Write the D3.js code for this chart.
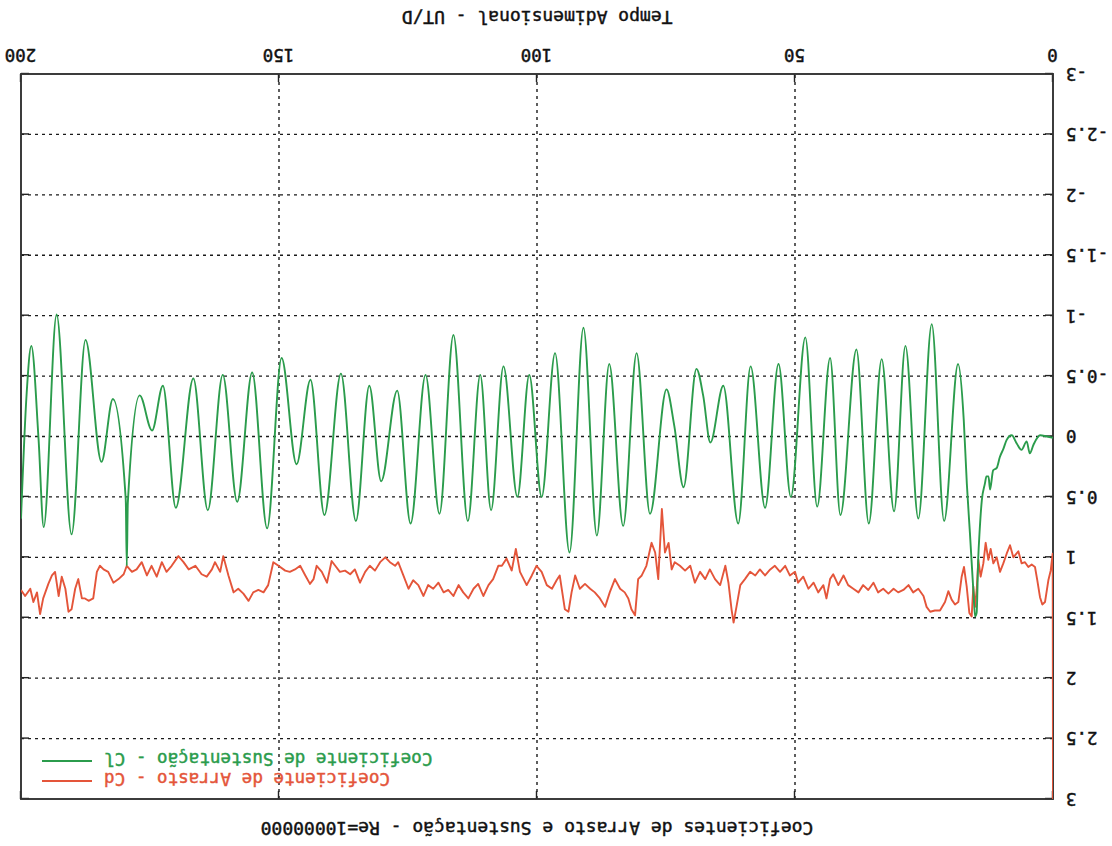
<!DOCTYPE html>
<html>
<head>
<meta charset="utf-8">
<script src="https://cdn.jsdelivr.net/npm/d3@7"></script>
<style>
  html, body { margin: 0; padding: 0; background: #fff; }
  svg { display: block; }
  text { font-family: "DejaVu Sans Mono", "Liberation Mono", monospace; fill: #111; }
</style>
</head>
<body>
<svg id="chart" width="1112" height="846"></svg>
<script>
// ---- data (time in UT/D, coefficient values) ----
const title = "Coeficientes de Arrasto e Sustentação - Re=10000000";
const xTitle = "Tempo Adimensional - UT/D";
const xTicks = [0, 50, 100, 150, 200];
const yTicks = [-3, -2.5, -2, -1.5, -1, -0.5, 0, 0.5, 1, 1.5, 2, 2.5, 3];
const legendLabels = ["Coeficiente de Arrasto - Cd", "Coeficiente de Sustentação - Cl"];

// Drag coefficient Cd
const cdSeries = [
  [0,3],[0.06,0.97],[0.45,1.11],[0.9,1.19],[1.55,1.37],[2.07,1.39],[2.52,1.33],[3.04,1.19],[3.49,1.08],[4.13,1.06],
  [4.78,1.08],[5.43,1.04],[6.07,1.05],[6.72,0.95],[7.69,1.0],[8.33,0.90],[8.98,0.97],[9.63,1.05],[10.27,1.12],[10.92,1.0],
  [11.56,1.05],[12.08,0.93],[12.53,1.02],[13.05,0.88],[13.5,1.05],[14.02,1.16],[14.47,1.02],[14.79,1.27],[15.12,1.41],[15.44,1.24],
  [15.76,1.49],[16.21,1.46],[16.73,1.24],[17.25,1.08],[17.7,1.16],[18.35,1.37],[18.99,1.39],[19.64,1.35],[20.28,1.28],[20.93,1.37],
  [21.9,1.44],[22.9,1.44],[23.8,1.45],[24.5,1.41],[25.1,1.32],[26.1,1.26],[27.1,1.29],[28.0,1.23],[29.0,1.27],[30.0,1.29],
  [30.9,1.26],[31.9,1.30],[32.9,1.26],[33.9,1.29],[34.8,1.21],[35.8,1.27],[36.8,1.23],[37.7,1.29],[38.7,1.26],[39.7,1.23],
  [40.6,1.15],[41.6,1.23],[42.6,1.14],[43.2,1.18],[43.9,1.34],[44.5,1.23],[45.5,1.29],[46.4,1.21],[47.4,1.26],[48.4,1.16],
  [49.4,1.21],[50.0,1.12],[51.0,1.15],[51.9,1.07],[52.9,1.12],[53.9,1.07],[54.8,1.10],[55.8,1.15],[56.8,1.10],[57.7,1.15],
  [58.7,1.12],[59.7,1.18],[60.6,1.23],[61.3,1.40],[61.9,1.54],[62.3,1.43],[62.9,1.21],[63.5,1.07],[64.5,1.23],[65.5,1.18],
  [66.5,1.10],[67.4,1.18],[68.4,1.12],[69.4,1.21],[70.3,1.07],[71.3,1.11],[72.3,1.07],[73.3,1.04],[73.9,1.10],[74.5,0.88],
  [75.2,0.96],[75.8,0.60],[76.5,1.18],[77.1,0.96],[77.8,0.88],[78.8,1.07],[79.7,1.15],[80.4,1.18],[81.0,1.48],[81.7,1.43],
  [82.3,1.34],[83.0,1.29],[83.9,1.26],[84.9,1.18],[85.9,1.29],[86.8,1.41],[87.8,1.34],[88.8,1.29],[89.7,1.26],[90.7,1.22],
  [91.7,1.26],[92.6,1.15],[93.3,1.29],[93.9,1.45],[94.6,1.43],[95.6,1.15],[96.2,1.19],[97.1,1.26],[98.1,1.23],[99.1,1.12],
  [100.1,1.07],[101.0,1.15],[102.0,1.23],[103.3,1.12],[104.1,0.93],[104.9,1.11],[105.9,1.01],[106.8,1.07],[107.5,1.07],[108.5,1.18],
  [109.4,1.23],[110.4,1.32],[111.4,1.22],[112.3,1.26],[113.3,1.34],[114.3,1.29],[115.2,1.23],[116.2,1.32],[117.2,1.27],[118.1,1.29],
  [119.1,1.21],[120.1,1.26],[121.1,1.23],[122.0,1.32],[123.0,1.23],[124.0,1.19],[124.9,1.26],[125.9,1.15],[126.9,1.04],[127.5,1.07],
  [128.5,1.04],[129.4,1.00],[130.4,1.04],[131.4,1.11],[132.4,1.07],[133.3,1.12],[134.3,1.21],[135.3,1.10],[136.2,1.14],[137.2,1.11],
  [138.2,1.12],[139.1,1.07],[139.8,1.03],[140.7,1.21],[141.7,1.12],[142.7,1.07],[143.3,1.18],[144.0,1.22],[144.9,1.15],[145.9,1.07],
  [146.9,1.10],[147.9,1.12],[148.8,1.11],[150.1,1.07],[151.1,1.04],[152.1,1.23],[153.0,1.29],[154.0,1.27],[155.0,1.29],[155.9,1.36],
  [156.9,1.30],[157.9,1.26],[158.8,1.29],[159.8,1.15],[160.8,0.99],[161.4,1.12],[162.4,1.04],[163.0,1.10],[164.0,1.16],[165.0,1.14],
  [166.2,1.07],[167.5,1.10],[168.5,1.04],[169.5,0.99],[170.8,1.07],[171.8,1.12],[172.7,1.04],[173.7,1.16],[174.7,1.07],[175.6,1.15],
  [176.6,1.04],[177.6,1.10],[178.5,1.12],[179.5,1.07],[180.1,1.14],[181.1,1.18],[182.1,1.21],[183.1,1.12],[184.0,1.10],[184.7,1.07],
  [185.3,1.12],[186.0,1.34],[186.9,1.36],[187.6,1.34],[188.2,1.34],[188.9,1.18],[189.5,1.26],[190.2,1.43],[190.8,1.45],[191.4,1.26],
  [192.1,1.16],[192.7,1.32],[193.4,1.12],[194.0,1.15],[194.7,1.22],[195.7,1.34],[196.3,1.47],[196.9,1.29],[197.6,1.37],[198.2,1.26],
  [199.2,1.32],[200,1.27]
];

// Lift coefficient Cl
const clSeries = [
  [0,0.01],[1.2,0.0],[2.5,-0.01],[3.8,0.07],[4.5,0.14],[5.1,0.04],[6.1,0.11],[7.0,0.06],[8.0,-0.01],[9.0,0.03],
  [9.6,0.10],[10.3,0.17],[10.9,0.26],[11.6,0.28],[12.2,0.44],[12.5,0.33],[12.9,0.33],[13.2,0.39],[13.8,0.53],[14.2,0.77],
  [14.5,1.02],[14.8,1.46],[15.1,1.49],[15.4,1.30],[16.1,0.80],[16.7,0.39],[17.3,-0.14],[18.4,-0.60],[21.1,0.70],[23.5,-0.93],
  [26.1,0.68],[28.6,-0.75],[30.8,0.62],[33.2,-0.64],[35.7,0.72],[38.1,-0.72],[41.2,0.65],[43.2,-0.65],[45.7,0.58],[48.0,-0.82],
  [50.8,0.50],[53.2,-0.60],[55.8,0.59],[58.6,-0.58],[61.0,0.72],[63.9,-0.42],[66.4,0.05],[67.8,-0.34],[69.1,-0.56],[71.6,0.42],
  [73.4,-0.09],[74.9,-0.39],[78.1,0.64],[80.7,-0.69],[83.3,0.74],[86.0,-0.60],[88.4,0.82],[91.0,-0.90],[93.7,0.96],[96.5,-0.69],
  [99.1,0.50],[101.5,-0.51],[103.8,0.50],[106.5,-0.58],[108.9,0.61],[111.0,-0.51],[113.4,0.70],[116.2,-0.84],[118.9,0.64],[121.6,-0.51],
  [124.5,0.72],[127.1,-0.38],[130.2,0.37],[132.5,-0.42],[135.1,0.70],[138.0,-0.52],[141.2,0.65],[143.9,-0.47],[146.6,0.23],[149.5,-0.65],
  [152.3,0.76],[155.2,-0.53],[158.1,0.54],[160.9,-0.51],[163.8,0.61],[166.6,-0.48],[170.0,0.59],[172.5,-0.42],[174.6,-0.05],[177.0,-0.34],
  [179.3,0.55],[179.5,1.07],[179.7,0.52],[182.2,-0.31],[184.4,0.21],[187.5,-0.80],[190.2,0.81],[193.1,-1.01],[195.6,0.75],[196.6,0.02],
  [198.0,-0.75],[198.9,-0.36],[200,0.68]
];

const seriesColors = ["#e4553a", "#2b9c4c"];

// ---- layout (drawn upright, then the whole figure is turned 180°) ----
const W = 1112, H = 846;
const plot = { left: 59, right: 1091, top: 47, bottom: 772 };

const svg = d3.select("#chart");
svg.append("rect").attr("width", W).attr("height", H).attr("fill", "#fff");

const g = svg.append("g").attr("transform", `rotate(180 ${W / 2} ${H / 2})`);

const x = d3.scaleLinear().domain([0, 200]).range([plot.left, plot.right]);
const y = d3.scaleLinear().domain([-3, 3]).range([plot.bottom, plot.top]);

// grid
const grid = g.append("g").attr("stroke", "#1a1a1a").attr("stroke-width", 1.4)
  .attr("stroke-dasharray", "3,4");
grid.selectAll("line.h").data(yTicks.filter(d => d > -3 && d < 3)).join("line")
  .attr("class", "h")
  .attr("x1", plot.left).attr("x2", plot.right)
  .attr("y1", d => y(d)).attr("y2", d => y(d));
grid.selectAll("line.v").data(xTicks.filter(d => d > 0 && d < 200)).join("line")
  .attr("class", "v")
  .attr("y1", plot.top).attr("y2", plot.bottom)
  .attr("x1", d => x(d)).attr("x2", d => x(d));

// clip
svg.append("defs").append("clipPath").attr("id", "clip")
  .append("rect").attr("x", plot.left).attr("y", plot.top - 1)
  .attr("width", plot.right - plot.left).attr("height", plot.bottom - plot.top + 2);

const lines = g.append("g").attr("clip-path", "url(#clip)");
lines.append("path").datum(cdSeries)
  .attr("fill", "none").attr("stroke", seriesColors[0]).attr("stroke-width", 1.9)
  .attr("stroke-linejoin", "round")
  .attr("d", d3.line().x(d => x(d[0])).y(d => y(d[1])).curve(d3.curveLinear));
lines.append("path").datum(clSeries)
  .attr("fill", "none").attr("stroke", seriesColors[1]).attr("stroke-width", 1.9)
  .attr("stroke-linejoin", "round")
  .attr("d", d3.line().x(d => x(d[0])).y(d => y(d[1])).curve(d3.curveMonotoneX));

// axes
const fmt = d => String(d);
const axB = g.append("g").attr("transform", `translate(0,${plot.bottom})`)
  .call(d3.axisBottom(x).tickValues(xTicks).tickSize(-8).tickPadding(13).tickFormat(fmt));
const axT = g.append("g").attr("transform", `translate(0,${plot.top})`)
  .call(d3.axisTop(x).tickValues(xTicks).tickSize(-8).tickFormat(""));
const axL = g.append("g").attr("transform", `translate(${plot.left},0)`)
  .call(d3.axisLeft(y).tickValues(yTicks).tickSize(-8).tickPadding(13).tickFormat(fmt));
const axR = g.append("g").attr("transform", `translate(${plot.right},0)`)
  .call(d3.axisRight(y).tickValues(yTicks).tickSize(-8).tickFormat(""));
[axB, axT, axL, axR].forEach(a => {
  a.select(".domain").remove();
  a.selectAll(".tick line").attr("stroke", "#222").attr("stroke-width", 1.4);
  a.selectAll("text").attr("font-family", "DejaVu Sans Mono").attr("font-size", 17.5)
    .attr("fill", "#111").attr("stroke", "#111").attr("stroke-width", 0.45);
});

// frame
g.append("rect").attr("x", plot.left).attr("y", plot.top)
  .attr("width", plot.right - plot.left).attr("height", plot.bottom - plot.top)
  .attr("fill", "none").attr("stroke", "#333").attr("stroke-width", 1.9);

lines.raise();

// titles
g.append("text").attr("x", (plot.left + plot.right) / 2).attr("y", 24)
  .attr("text-anchor", "middle").attr("font-size", 18)
  .attr("stroke", "#111").attr("stroke-width", 0.45).text(title);
g.append("text").attr("x", (plot.left + plot.right) / 2).attr("y", 835)
  .attr("text-anchor", "middle").attr("font-size", 18)
  .attr("stroke", "#111").attr("stroke-width", 0.45).text(xTitle);

// legend
const legend = g.append("g");
legendLabels.forEach((lab, i) => {
  const ly = 65 + i * 20;
  legend.append("text").attr("x", 1008).attr("y", ly + 8)
    .attr("text-anchor", "end").attr("font-size", 17.6)
    .style("fill", seriesColors[i]).attr("stroke", seriesColors[i]).attr("stroke-width", 0.45)
    .text(lab);
  legend.append("line").attr("x1", 1020).attr("x2", 1070)
    .attr("y1", ly).attr("y2", ly)
    .attr("stroke", seriesColors[i]).attr("stroke-width", 2.2);
});
</script>
</body>
</html>
